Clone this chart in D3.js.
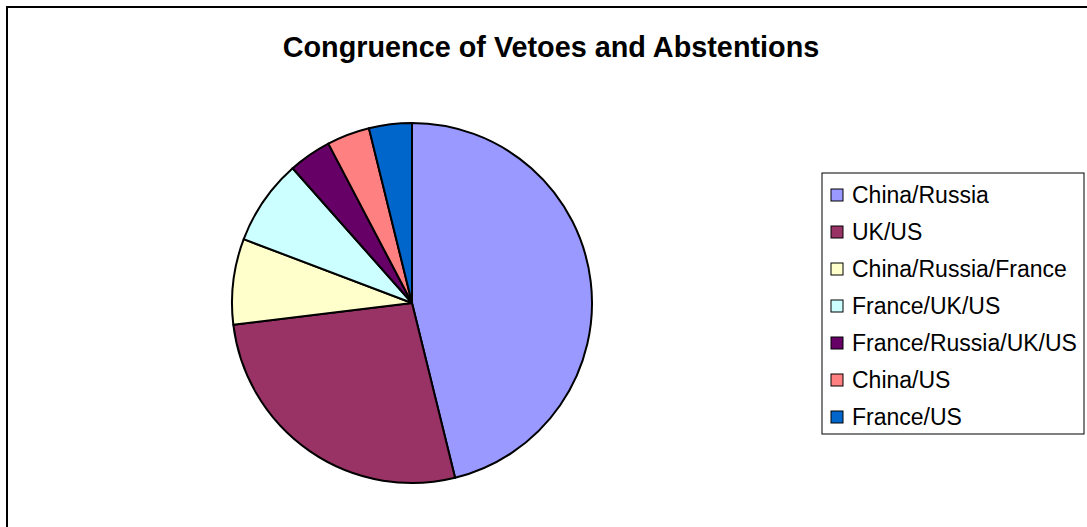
<!DOCTYPE html>
<html><head><meta charset="utf-8">
<script src="https://cdn.jsdelivr.net/npm/d3@7"></script>
<style>html,body{margin:0;padding:0;background:#fff;}svg{display:block;}</style>
</head><body>
<svg id="chart" width="1087" height="527"></svg>
<script>
const categories = ["China/Russia","UK/US","China/Russia/France","France/UK/US","France/Russia/UK/US","China/US","France/US"];
const values = [12, 7, 2, 2, 1, 1, 1];
const colors = ["#9999FF","#993366","#FFFFCC","#CCFFFF","#660066","#FF8080","#0066CC"];
const title = "Congruence of Vetoes and Abstentions";

const svg = d3.select("#chart");
const font = "Arial, 'Liberation Sans', sans-serif";

// outer border
svg.append("rect").attr("x",7).attr("y",7).attr("width",1100).attr("height",540)
  .attr("fill","#fff").attr("stroke","#000").attr("stroke-width",2);

svg.append("text").attr("x",551).attr("y",57).attr("text-anchor","middle")
  .attr("font-family",font).attr("font-weight","bold").attr("font-size",28.8).text(title);

const data = categories.map((c,i)=>({cat:c,val:values[i],color:colors[i]}));
const pie = d3.pie().value(d=>d.val).sort(null);
const arc = d3.arc().innerRadius(0).outerRadius(180);
const g = svg.append("g").attr("transform","translate(412,303)");
g.selectAll("path").data(pie(data)).join("path")
  .attr("d",arc).attr("fill",d=>d.data.color).attr("stroke","#000").attr("stroke-width",2)
  .attr("stroke-linejoin","round");

// legend
const lg = svg.append("g");
lg.append("rect").attr("x",822).attr("y",173).attr("width",262).attr("height",261)
  .attr("fill","#fff").attr("stroke","#000").attr("stroke-width",1);
const y = d3.scalePoint().domain(categories).range([195,417]);
const items = lg.selectAll("g.item").data(data).join("g").attr("class","item");
items.append("rect").attr("x",831).attr("y",d=>y(d.cat)-6).attr("width",12).attr("height",12)
  .attr("fill",d=>d.color).attr("stroke","#000").attr("stroke-width",1);
items.append("text").attr("x",852).attr("y",d=>y(d.cat)+8)
  .attr("font-family",font).attr("font-size",23).text(d=>d.cat);
</script>
</body></html>
